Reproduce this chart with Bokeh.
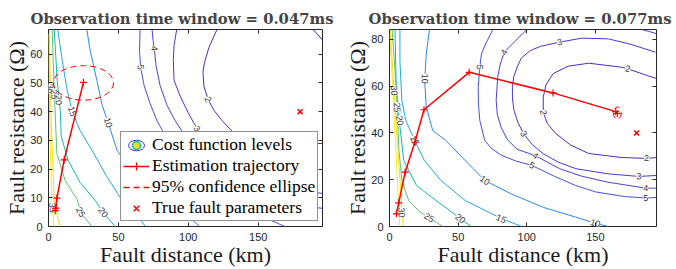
from bokeh.plotting import figure
from bokeh.models import ColumnDataSource, FixedTicker, LinearAxis, Legend, LegendItem, Range1d
from bokeh.layouts import row
from bokeh.embed import file_html
from bokeh.resources import INLINE
from bokeh.core.properties import value

# ---------------- data ----------------
x_ticks = [0, 50, 100, 150]
left_y_ticks = [0, 10, 20, 30, 40, 50, 60]
right_y_ticks = [0, 20, 40, 60, 80]
left_title = "Observation time window = 0.047ms"
right_title = "Observation time window = 0.077ms"
left_xmax, left_ymax = 196, 68.6
right_xmax, right_ymax = 194.5, 84.2

level_colors = {1: "#3e26a8", 2: "#4431bd", 3: "#4639cc", 4: "#4843d9", 5: "#4751e4",
                10: "#2e86f0", 15: "#1fa8e2", 20: "#14b9ad", 25: "#62c270",
                30: "#f2dc24", 35: "#f9ee10"}

true_x, true_y = [180], [40]

# left panel contour lines (level: x list, y list)
left_c1_x = [189.1, 192.0, 195.5, 196.5]
left_c1_y = [68.6, 67.2, 65.2, 64.6]
left_c2_x = [120.5, 114.8, 111.6, 110.5, 111.2, 114.1, 118.4, 124.1, 133.4, 147.6, 169.1, 196.5]
left_c2_y = [68.6, 62.4, 57.1, 53.7, 48.8, 44.3, 40.4, 36.9, 32.1, 30.0, 28.9, 28.9]
left_c3_x = [91.7, 89.8, 89.3, 89.8, 94.1, 99.8, 106.2, 119.1, 136.9, 158.4, 196.5]
left_c3_y = [68.6, 63.1, 57.8, 50.9, 45.5, 39.7, 34.1, 26.5, 18.8, 13.6, 11.5]
left_c4_x = [74.1, 74.8, 75.7, 76.9, 79.8, 84.8, 90.5, 97.6, 115.5, 136.9, 165.5, 196.5]
left_c4_y = [68.6, 64.8, 62.0, 56.1, 49.1, 42.2, 36.9, 31.7, 21.3, 12.5, 8.0, 6.3]
left_c5_x = [65.5, 65.1, 65.9, 68.4, 72.6, 77.6, 83.4, 101.2, 122.6, 151.2, 169.1]
left_c5_y = [68.6, 61.3, 55.4, 49.1, 42.9, 36.9, 31.7, 19.5, 10.1, 3.8, 0]
left_c10_x = [27.4, 29.8, 34.6, 38.4, 42.6, 49.1, 61.9, 79.8, 97.6, 108.4]
left_c10_y = [68.6, 61.3, 50.9, 42.2, 36.2, 26.5, 17.8, 10.1, 4.2, 0]
left_c15_x = [6.6, 9.8, 13.4, 16.9, 22.6, 31.2, 41.2, 52.6, 64.1, 69.1]
left_c15_y = [68.6, 57.8, 47.4, 40.1, 33.4, 26.5, 17.8, 9.1, 3.8, 0]
left_c20_x = [4.1, 6.2, 8.4, 9.1, 14.1, 22.6, 33.4, 39.1, 47.6]
left_c20_y = [68.6, 50.9, 40.4, 31.4, 23.0, 15.3, 9.1, 4.9, 0]
left_c25_x = [2.6, 4.1, 6.0, 11.9, 20.5, 23.4, 31.2]
left_c25_y = [68.6, 47.4, 25.4, 16.0, 9.4, 4.5, 0]
left_c30_x = [0.5, 1.9, 4.1, 6.2, 8.4]
left_c30_y = [68.6, 36.9, 9.1, 3.8, 0]
left_c35_x = [0.2, 0.8, 2.3, 4.0]
left_c35_y = [68.6, 36.9, 9.1, 0]

left_label_x = [114.1, 106.2, 75.7, 65.9, 42.6, 16.9, 39.1, 22.9, 1.4, 4.0, 7.2, 2.8]
left_label_y = [44.3, 34.1, 62.0, 55.4, 36.2, 40.1, 4.9, 5.0, 48.0, 46.0, 44.0, 6.5]
left_label_text = ["2", "3", "4", "5", "10", "15", "20", "25", "30", "25", "20", "35"]
left_label_angle = [-1.17, -0.98, -1.46, -1.5, -1.25, -1.26, -0.91, -1.06, -1.5, -1.5, -1.5, -1.5]

left_traj_x = [4.8, 5.3, 6.0, 11.2, 25.0]
left_traj_y = [5.5, 6.4, 9.9, 23.2, 50.2]
left_ell_x, left_ell_y, left_ell_w, left_ell_h = [25.0], [50.0], [43.0], [12.0]

# right panel contour lines
right_c2_x = [194.9, 187.8, 173.6, 168.8, 145.2, 130.0, 119.1, 114.0, 112.0, 112.0, 115.0, 121.2, 132.0, 145.2, 168.8, 187.3, 194.9]
right_c2_y = [63.2, 64.5, 67.4, 68.1, 69.8, 68.5, 65.3, 60.5, 55.3, 48.8, 44.0, 39.7, 34.8, 31.2, 29.5, 29.1, 29.5]
right_c3_x = [193.7, 175.0, 159.4, 140.0, 123.9, 110.0, 102.6, 96.0, 93.0, 90.5, 89.5, 89.6, 90.7, 93.5, 97.8, 104.0, 112.0, 123.0, 135.7, 159.4, 181.6, 194.5]
right_c3_y = [74.5, 78.0, 80.2, 80.5, 78.8, 77.0, 75.2, 72.0, 68.1, 64.0, 59.5, 54.5, 49.6, 44.5, 39.6, 35.0, 31.1, 27.5, 24.7, 22.5, 21.4, 21.8]
right_c4_x = [100.1, 92.0, 83.6, 80.5, 78.8, 77.7, 78.5, 81.3, 86.0, 93.0, 106.1, 123.9, 140.0, 159.4, 186.6, 194.5]
right_c4_y = [84.2, 79.5, 74.5, 69.0, 63.8, 53.8, 48.0, 42.4, 37.0, 33.0, 30.3, 24.7, 21.5, 18.9, 16.4, 16.4]
right_c4b_x = [183.7, 189.0, 194.5]
right_c4b_y = [84.2, 83.4, 82.4]
right_c5_x = [75.3, 70.0, 67.0, 65.8, 64.6, 64.8, 65.8, 69.4, 74.0, 81.3, 92.0, 103.7, 120.0, 135.7, 150.0, 171.2, 186.6, 194.5]
right_c5_y = [84.2, 78.0, 73.8, 68.1, 59.5, 52.0, 45.3, 36.8, 33.5, 30.5, 28.0, 26.1, 21.5, 17.5, 14.8, 12.8, 12.2, 12.4]
right_c10_x = [29.1, 26.8, 25.6, 26.8, 31.5, 41.0, 52.8, 69.4, 88.4, 112.0, 135.7, 149.9, 159.4]
right_c10_y = [84.2, 73.8, 62.4, 51.0, 41.0, 36.8, 29.6, 19.7, 14.0, 8.2, 4.0, 1.4, 0]
right_c15_x = [7.6, 7.6, 9.0, 11.9, 18.3, 25.4, 37.4, 55.2, 81.5, 96.4]
right_c15_y = [84.2, 70.9, 53.8, 45.3, 36.8, 28.2, 19.7, 11.1, 3.4, 0]
right_c20_x = [4.0, 4.8, 6.2, 7.6, 10.4, 19.7, 33.9, 51.6, 59.4]
right_c20_y = [84.2, 62.4, 49.6, 42.7, 28.2, 17.5, 11.1, 3.4, 0]
right_c25_x = [1.9, 4.0, 5.5, 6.9, 9.0, 14.0, 21.8, 28.9, 38.9]
right_c25_y = [84.2, 66.7, 50.9, 32.5, 19.7, 11.1, 6.4, 3.8, 0]
right_c30_x = [0.5, 4.1, 5.0, 7.7, 10.0]
right_c30_y = [84.2, 50.9, 42.3, 19.7, 0]
right_c35_x = [0.2, 2.5, 5.0, 7.5]
right_c35_y = [84.2, 56.8, 28.6, 0]

right_label_x = [25.6, 69.4, 149.9, 18.3, 81.3, 51.6, 7.4, 28.9, 5.5, 3.3, 8.8,
                 65.8, 103.7, 186.6, 83.6, 106.1, 186.6, 123.9, 97.8, 181.6, 173.6, 112.0, 187.3]
right_label_y = [63.1, 19.7, 1.4, 36.8, 3.3, 3.4, 45.3, 3.8, 50.9, 58.1, 6.0,
                 68.1, 26.1, 12.2, 74.5, 30.3, 16.4, 78.8, 39.6, 21.4, 67.4, 48.8, 29.1]
right_label_text = ["10", "10", "10", "15", "15", "20", "20", "25", "25", "30", "30",
                    "5", "5", "5", "4", "4", "4", "3", "3", "3", "2", "2", "2"]
right_label_angle = [-1.57, -0.6, -0.27, -1.13, -0.42, -0.63, -1.45, -0.56, -1.5, -1.5, -1.5,
                     -1.57, -0.37, 0.0, 1.01, -0.61, 0.0, 0.14, -0.96, -0.03, -0.2, -1.45, 0.0]

right_traj_x = [5.0, 6.7, 11.4, 18.5, 25.1, 58.0, 119.1, 164.8, 166.0]
right_traj_y = [5.4, 10.1, 23.2, 36.0, 49.9, 65.9, 57.1, 49.1, 48.3]
right_ell_x, right_ell_y, right_ell_w, right_ell_h = [166.0], [48.5], [5.7], [5.2]

legend_labels = ["Cost function levels", "Estimation trajectory",
                 "95% confidence ellipse", "True fault parameters"]

left_contours = [(1, left_c1_x, left_c1_y), (2, left_c2_x, left_c2_y), (3, left_c3_x, left_c3_y),
                 (4, left_c4_x, left_c4_y), (5, left_c5_x, left_c5_y), (10, left_c10_x, left_c10_y),
                 (15, left_c15_x, left_c15_y), (20, left_c20_x, left_c20_y), (25, left_c25_x, left_c25_y),
                 (30, left_c30_x, left_c30_y), (35, left_c35_x, left_c35_y)]
right_contours = [(2, right_c2_x, right_c2_y), (3, right_c3_x, right_c3_y), (4, right_c4_x, right_c4_y),
                  (4, right_c4b_x, right_c4b_y), (5, right_c5_x, right_c5_y), (10, right_c10_x, right_c10_y),
                  (15, right_c15_x, right_c15_y), (20, right_c20_x, right_c20_y), (25, right_c25_x, right_c25_y),
                  (30, right_c30_x, right_c30_y), (35, right_c35_x, right_c35_y)]

TXT = "#262626"


def style_axis(ax, ticks, label=None):
    ax.ticker = FixedTicker(ticks=ticks)
    ax.major_tick_in = 4
    ax.major_tick_out = 0
    ax.minor_tick_line_color = None
    ax.axis_line_color = None
    ax.major_tick_line_color = TXT
    if label is not None:
        ax.major_label_text_font = "Liberation Sans"
        ax.major_label_text_font_size = "11px"
        ax.major_label_text_color = TXT
        ax.major_label_standoff = 6
        ax.axis_label = label
        ax.axis_label_text_font = "Liberation Serif"
        ax.axis_label_text_font_size = "22px"
        ax.axis_label_text_font_style = "normal"
        ax.axis_label_text_color = "#1a1a1a"
        ax.axis_label_standoff = -2
    else:
        ax.major_label_text_color = None
        ax.major_label_standoff = 0


def panel(title, title_offset, xmax, ymax, yticks, contours, lab_x, lab_y, lab_t, lab_a,
          tx, ty, ex, ey, ew, eh, width, bl, br, with_legend):
    p = figure(width=width, height=269, x_range=Range1d(0, xmax), y_range=Range1d(0, ymax),
               output_backend="svg", toolbar_location=None, title=title,
               min_border_left=bl, min_border_right=br, min_border_top=29, min_border_bottom=43)
    p.grid.visible = False
    p.outline_line_color = TXT
    p.outline_line_width = 1
    p.title.text_font = "DejaVu Serif"
    p.title.text_font_style = "bold"
    p.title.text_font_size = "14.8px"
    p.title.align = "left"
    p.title.offset = title_offset
    p.title.standoff = 6
    style_axis(p.xaxis[0], x_ticks, "Fault distance (km)")
    style_axis(p.yaxis[0], yticks, "Fault resistance (\u03a9)")
    top = LinearAxis()
    right = LinearAxis()
    style_axis(top, x_ticks)
    style_axis(right, yticks)
    p.add_layout(top, "above")
    p.add_layout(right, "right")

    src = ColumnDataSource(dict(xs=[c[1] for c in contours], ys=[c[2] for c in contours],
                                color=[level_colors[c[0]] for c in contours]))
    p.multi_line("xs", "ys", line_color="color", line_width=1, source=src)

    lsrc = ColumnDataSource(dict(x=lab_x, y=lab_y, text=lab_t, angle=lab_a))
    p.text("x", "y", text="text", angle="angle", source=lsrc, text_font=value("Liberation Sans"),
           text_font_size=value("9px"), text_align="center", text_baseline="middle",
           text_color="#333333", background_fill_color="white")

    p.ellipse(x=ex, y=ey, width=ew, height=eh, fill_color=None, line_color="#ff0000",
              line_width=1, line_dash="6 4")
    tl = p.line(tx, ty, line_color="#ff0000", line_width=1.5)
    tm = p.scatter(tx, ty, marker="cross", size=7, line_color="#ff0000", line_width=1.2)

    prox_e = p.ellipse(x=true_x, y=true_y, width=[1.0], height=[0.66], width_units="screen",
                       height_units="screen", fill_color=None, line_color=level_colors[2], line_width=1)
    prox_c = p.scatter(true_x, true_y, marker="circle", size=0, fill_color=level_colors[30],
                       line_color=level_colors[20], line_width=1.5)
    prox_d = p.line(ex, ey, line_color="#ff0000", line_width=1.5, line_dash="6 4")
    tr = p.scatter(true_x, true_y, marker="x", size=7, line_color="#ff0000", line_width=1.5)

    if with_legend:
        leg = Legend(items=[LegendItem(label=legend_labels[0], renderers=[prox_e, prox_c]),
                            LegendItem(label=legend_labels[1], renderers=[tl, tm]),
                            LegendItem(label=legend_labels[2], renderers=[prox_d]),
                            LegendItem(label=legend_labels[3], renderers=[tr])],
                     location=(72, 5))
        leg.label_text_font = "Liberation Serif"
        leg.label_text_font_size = "17.5px"
        leg.label_text_color = "#000000"
        leg.glyph_width = 26
        leg.glyph_height = 20
        leg.label_height = 20
        leg.label_standoff = 3
        leg.padding = 2
        leg.spacing = 0
        leg.margin = 0
        leg.border_line_color = TXT
        leg.border_line_width = 1
        leg.background_fill_alpha = 1
        p.add_layout(leg)
    return p


p1 = panel(left_title, -18, left_xmax, left_ymax, left_y_ticks, left_contours,
           left_label_x, left_label_y, left_label_text, left_label_angle,
           left_traj_x, left_traj_y, left_ell_x, left_ell_y, left_ell_w, left_ell_h,
           342, 48, 20, True)
p2 = panel(right_title, -21, right_xmax, right_ymax, right_y_ticks, right_contours,
           right_label_x, right_label_y, right_label_text, right_label_angle,
           right_traj_x, right_traj_y, right_ell_x, right_ell_y, right_ell_w, right_ell_h,
           334, 40, 20, False)

layout = row(p1, p2)
open("out.html", "w").write(file_html(layout, INLINE))
